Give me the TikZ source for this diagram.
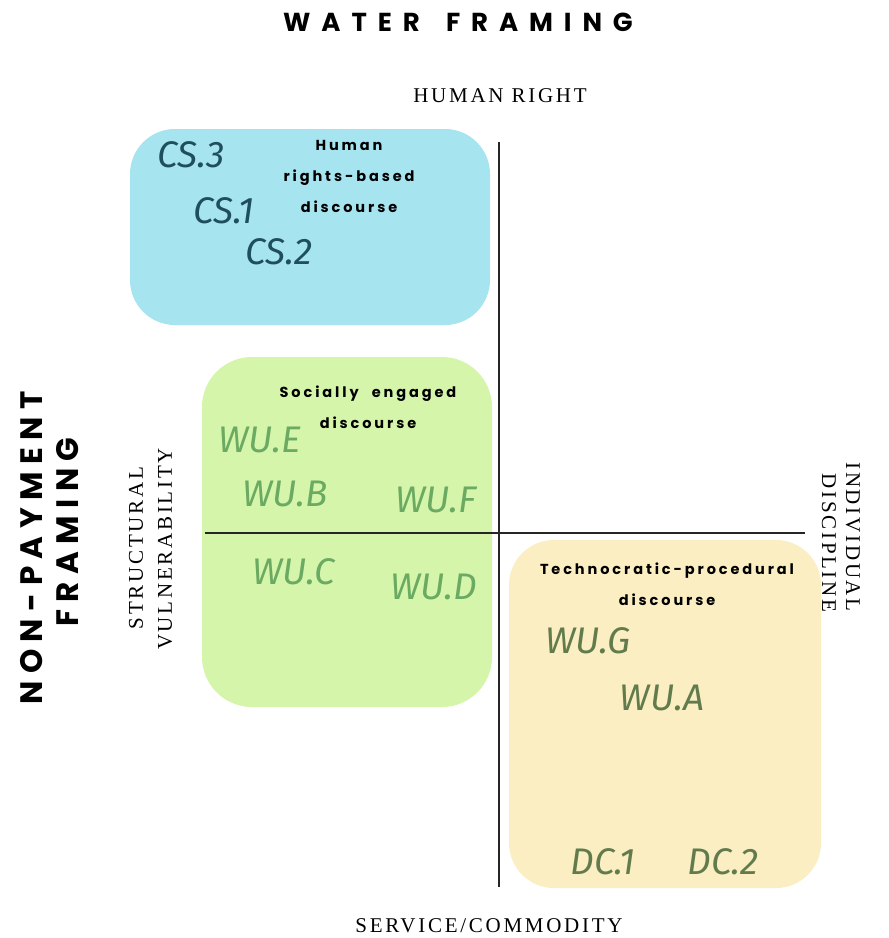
\documentclass[tikz,border=0pt]{standalone}
\usepackage{fontspec}
\setmainfont{Liberation Serif}
\newfontfamily\titlefont{Poppins}[LetterSpace=42, WordSpace=1.6]
\newfontfamily\sidefont{Poppins}[LetterSpace=24]
\newfontfamily\boxfont{Poppins}[LetterSpace=20, WordSpace=2.2]
\newfontfamily\serifsp{Liberation Serif}[LetterSpace=13]
\newfontfamily\hand{Fira Sans}
\definecolor{bluebox}{HTML}{A6E4F0}
\definecolor{greenbox}{HTML}{D5F5AA}
\definecolor{yellowbox}{HTML}{FAEEC2}
\definecolor{cstext}{HTML}{1F4E5C}
\definecolor{wutext}{HTML}{6BAA62}
\definecolor{dctext}{HTML}{627B4D}
\tikzset{
  title/.style={font=\titlefont\bfseries\fontsize{26}{30}\selectfont, inner sep=0pt},
  sidetitle/.style={font=\sidefont\bfseries\fontsize{31}{36}\selectfont, inner sep=0pt, rotate=90},
  axislabel/.style={font=\serifsp\fontsize{21}{24}\selectfont, inner sep=0pt},
  boxlabel/.style={font=\boxfont\bfseries\fontsize{14.5}{31}\selectfont, align=center, inner sep=0pt},
  region/.style={rounded corners=45pt, draw=none, inner sep=0pt},
  case/.style={font=\hand\itshape\fontsize{37}{40}\selectfont, inner sep=0pt},
  axis/.style={line width=1.6pt, draw=black!85}
}
\begin{document}
\begin{tikzpicture}[x=1pt,y=-1pt]
\useasboundingbox[fill=white] (0,0) rectangle (889,938);
% regions
\node[region, fill=bluebox, minimum width=360pt, minimum height=196pt] (blue) at (310,227) {};
\node[region, fill=greenbox, minimum width=290pt, minimum height=350pt, rounded corners=50pt] (green) at (347,532) {};
\node[region, fill=yellowbox, minimum width=312pt, minimum height=348pt] (yellow) at (665,714) {};
% axes
\coordinate (vtop) at (499,142);
\coordinate (vbot) at (499,887);
\coordinate (hleft) at (205,533);
\coordinate (hright) at (805,533);
\draw[axis] (vtop) -- (vbot);
\draw[axis] (hleft) -- (hright);
% titles
\node[title] (t1) at (458,22) {WATER FRAMING};
\node[sidetitle] (t2) at (32,548) {NON-PAYMENT};
\node[sidetitle] (t3) at (68,532) {FRAMING};
% axis labels
\node[axislabel] (hr) at (500,96) {HUMAN RIGHT};
\node[axislabel] (sc) at (489,926) {SERVICE/COMMODITY};
\node[axislabel, rotate=90] (sv1) at (136,548) {STRUCTURAL};
\node[axislabel, rotate=90] (sv2) at (165,549) {VULNERABILITY};
\node[axislabel, rotate=-90] (id1) at (853,537) {INDIVIDUAL};
\node[axislabel, rotate=-90] (id2) at (829,543) {DISCIPLINE};
% box labels
\node[boxlabel] (hrb) at (349,176) {Human\\rights-based\\discourse};
\node[boxlabel] (sed) at (368,407) {Socially engaged\\discourse};
\node[boxlabel] (tpd) at (667,584) {Technocratic-procedural\\discourse};
% cases
\node[case, text=cstext] (cs3) at (191,155) {CS.3};
\node[case, text=cstext] (cs1) at (224,211) {CS.1};
\node[case, text=cstext] (cs2) at (279,252) {CS.2};
\node[case, text=wutext] (wue) at (260,440) {WU.E};
\node[case, text=wutext] (wub) at (285,494) {WU.B};
\node[case, text=wutext] (wuf) at (436,500) {WU.F};
\node[case, text=wutext] (wuc) at (294,572) {WU.C};
\node[case, text=wutext] (wud) at (434,587) {WU.D};
\node[case, text=dctext] (wug) at (588,641) {WU.G};
\node[case, text=dctext] (wua) at (662,698) {WU.A};
\node[case, text=dctext] (dc1) at (603,862) {DC.1};
\node[case, text=dctext] (dc2) at (723,862) {DC.2};
\end{tikzpicture}
\end{document}
